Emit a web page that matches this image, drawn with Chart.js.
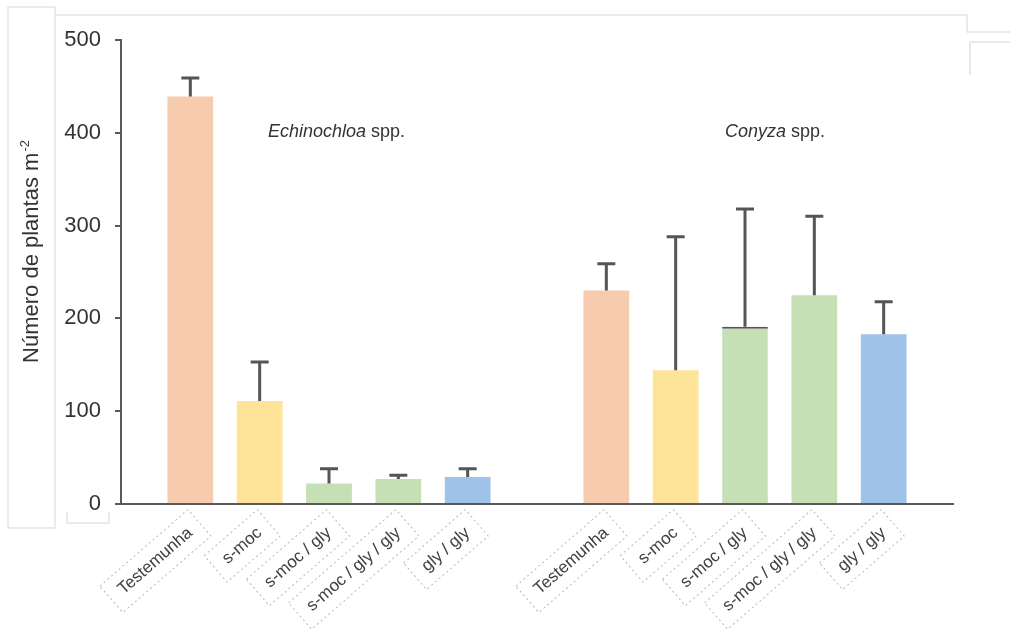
<!DOCTYPE html>
<html>
<head>
<meta charset="utf-8">
<script src="https://cdn.jsdelivr.net/npm/chart.js@4"></script>
<style>
  html, body { margin: 0; padding: 0; background: #ffffff; }
  #wrap { width: 1010px; height: 630px; position: relative; }
</style>
</head>
<body>
<div id="wrap"><canvas id="c" width="1010" height="630"></canvas></div>
<script>
// Treatments for each weed group, with empty slots separating the groups
const categories = ['', 'Testemunha', 's-moc', 's-moc / gly', 's-moc / gly / gly', 'gly / gly', '',
                    'Testemunha', 's-moc', 's-moc / gly', 's-moc / gly / gly', 'gly / gly', ''];
// Mean number of plants per m² (Echinochloa spp., then Conyza spp.)
const plantMeans = [null, 439, 111, 22, 27, 29, null, 230, 144, 191, 225, 183, null];
// Upper error (standard deviation) for each mean
const plantErrors = [null, 20, 42, 16, 4, 9, null, 29, 144, 127, 85, 35, null];
const yTickValues = [0, 100, 200, 300, 400, 500];
const groupNames = ['Echinochloa', 'Conyza'];
const axisTitle = 'Número de plantas m';
const axisTitleSup = '-2';

// Fill colour per treatment
const treatmentColors = {
  'Testemunha': '#F6CBAE',
  's-moc': '#FEE499',
  's-moc / gly': '#C6E0B5',
  's-moc / gly / gly': '#C6E0B5',
  'gly / gly': '#9EC3E6'
};
const barColors = categories.map(c => treatmentColors[c] || 'rgba(0,0,0,0)');
// thin dark edge on top of the second Conyza green bar
const barTopEdges = categories.map((c, i) => (i === 9 ? { top: 2, left: 0, right: 0, bottom: 0 } : 0));

const FONT = '"Liberation Sans", Arial, sans-serif';
const AXIS = '#595959';

// Faint frame lines around the figure
const framePlugin = {
  id: 'frame',
  beforeDraw(chart) {
    const ctx = chart.ctx;
    ctx.save();
    ctx.strokeStyle = '#e4e4e4';
    ctx.lineWidth = 1.5;
    ctx.beginPath();
    ctx.moveTo(55, 15); ctx.lineTo(967, 15); ctx.lineTo(967, 32); ctx.lineTo(1010, 32);
    ctx.moveTo(1010, 42); ctx.lineTo(970, 42); ctx.lineTo(970, 75);
    ctx.moveTo(55, 7); ctx.lineTo(8, 7); ctx.lineTo(8, 528); ctx.lineTo(55, 528); ctx.lineTo(55, 7);
    ctx.moveTo(67, 512); ctx.lineTo(67, 523); ctx.lineTo(109, 523); ctx.lineTo(109, 512);
    ctx.stroke();
    ctx.restore();
  }
};

// Error bars above each bar
const errorBarPlugin = {
  id: 'errorBars',
  afterDatasetsDraw(chart) {
    const ctx = chart.ctx;
    const yScale = chart.scales.y;
    const meta = chart.getDatasetMeta(0);
    ctx.save();
    ctx.strokeStyle = '#555555';
    ctx.lineWidth = 3;
    meta.data.forEach((bar, i) => {
      if (plantMeans[i] == null) return;
      const x = bar.x;
      const yBase = bar.y;
      const yTop = yScale.getPixelForValue(plantMeans[i] + plantErrors[i]);
      ctx.beginPath();
      ctx.moveTo(x, yBase);
      ctx.lineTo(x, yTop);
      ctx.moveTo(x - 9, yTop);
      ctx.lineTo(x + 9, yTop);
      ctx.stroke();
    });
    ctx.restore();
  }
};

// Dashed boxes around the x tick labels, group names and the y axis title
const textPlugin = {
  id: 'texts',
  afterDraw(chart) {
    const ctx = chart.ctx;
    const xScale = chart.scales.x;

    // dashed outline around each rotated category label
    const items = xScale.getLabelItems();
    ctx.save();
    items.forEach(item => {
      const label = item.label;
      if (!label) return;
      const o = item.options;
      ctx.save();
      ctx.font = item.font.string;
      const w = ctx.measureText(label).width;
      const h = item.font.size;
      ctx.translate(o.translation[0], o.translation[1]);
      ctx.rotate(o.rotation);
      let x0 = -w;
      if (o.textAlign === 'left') x0 = 0;
      else if (o.textAlign === 'center') x0 = -w / 2;
      let cy = item.textOffset;
      if (o.textBaseline === 'top') cy += h / 2;
      else if (o.textBaseline === 'bottom') cy -= h / 2;
      ctx.setLineDash([2, 3]);
      ctx.strokeStyle = '#b8b8b8';
      ctx.lineWidth = 1;
      ctx.strokeRect(x0 - 12, cy - h / 2 - 9, w + 24, h + 18);
      ctx.restore();
    });
    ctx.restore();

    // group names
    ctx.save();
    ctx.fillStyle = '#333333';
    ctx.textBaseline = 'middle';
    ctx.textAlign = 'left';
    const drawGroup = (name, x, y) => {
      ctx.font = 'italic 18px ' + FONT;
      ctx.fillText(name, x, y);
      const w = ctx.measureText(name).width;
      ctx.font = '18px ' + FONT;
      ctx.fillText(' spp.', x + w, y);
    };
    drawGroup(groupNames[0], 268, 132);
    drawGroup(groupNames[1], 725, 132);
    ctx.restore();

    // y axis title with superscript
    ctx.save();
    ctx.fillStyle = '#333333';
    ctx.translate(38, 252);
    ctx.rotate(-Math.PI / 2);
    ctx.textBaseline = 'alphabetic';
    ctx.textAlign = 'left';
    ctx.font = '22px ' + FONT;
    const w1 = ctx.measureText(axisTitle).width;
    ctx.font = '13px ' + FONT;
    const w2 = ctx.measureText(axisTitleSup).width;
    const start = -(w1 + w2) / 2;
    ctx.font = '22px ' + FONT;
    ctx.fillText(axisTitle, start, 0);
    ctx.font = '13px ' + FONT;
    ctx.fillText(axisTitleSup, start + w1 + 1, -9);
    ctx.restore();
  }
};

new Chart(document.getElementById('c'), {
  type: 'bar',
  data: {
    labels: categories,
    datasets: [{
      data: plantMeans,
      backgroundColor: barColors,
      borderColor: '#555555',
      borderWidth: barTopEdges,
      borderSkipped: false,
      barPercentage: 1,
      categoryPercentage: 0.66
    }]
  },
  options: {
    responsive: false,
    animation: false,
    devicePixelRatio: 1,
    layout: { padding: { left: 0, right: 57, top: 40, bottom: 0 } },
    plugins: {
      legend: { display: false },
      tooltip: { enabled: false }
    },
    scales: {
      x: {
        type: 'category',
        offset: false,
        grid: { display: false, drawTicks: false },
        border: { display: true, color: AXIS, width: 2 },
        ticks: {
          autoSkip: false,
          minRotation: 41,
          maxRotation: 41,
          padding: 19,
          color: '#404040',
          font: { family: FONT, size: 17 }
        },
        afterFit(scale) { scale.height = 126; }
      },
      y: {
        min: 0,
        max: 500,
        afterBuildTicks(scale) { scale.ticks = yTickValues.map(v => ({ value: v })); },
        grid: { drawOnChartArea: false, drawTicks: true, tickLength: 6, color: AXIS, lineWidth: 2 },
        border: { display: true, color: AXIS, width: 2 },
        ticks: {
          padding: 14,
          color: '#333333',
          font: { family: FONT, size: 22 }
        },
        afterFit(scale) { scale.width = 121; }
      }
    }
  },
  plugins: [framePlugin, errorBarPlugin, textPlugin]
});
</script>
</body>
</html>
